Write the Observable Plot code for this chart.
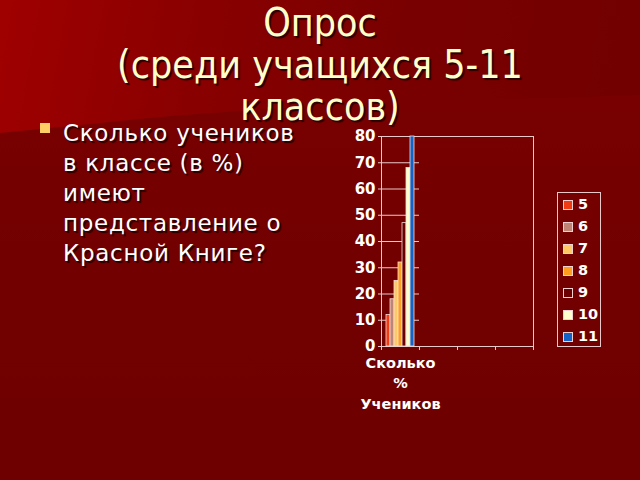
<!DOCTYPE html>
<html>
<head>
<meta charset="utf-8">
<script src="https://cdn.jsdelivr.net/npm/d3@7"></script>
<script src="https://cdn.jsdelivr.net/npm/@observablehq/plot@0.6"></script>
<style>
  html, body { margin: 0; padding: 0; }
  body { width: 640px; height: 480px; position: relative; overflow: hidden;
         background: linear-gradient(180deg, #7c0000 0%, #740000 45%, #6e0000 100%); }
  #header { position: absolute; left: 0; top: 0; width: 640px; height: 140px;
            background: linear-gradient(100deg, #a00000 0%, #8a0000 30%, #7a0000 60%, #720000 100%);
            clip-path: polygon(0 0, 100% 0, 100% 95px, 480px 100px, 340px 104px, 170px 116px, 0 133px); }
  #title { position: absolute; left: 0; top: 2px; width: 640px; text-align: center;
           font-family: "DejaVu Sans Condensed", "Liberation Sans Narrow", "DejaVu Sans", sans-serif;
           font-stretch: condensed; font-size: 39px; line-height: 42px; color: #ffffcc;
           text-shadow: 2px 2px 1px #2a0000; }
  #bullet { position: absolute; left: 40px; top: 123px; width: 10px; height: 10px; background: #ffcc66; }
  #text { position: absolute; left: 63px; top: 118px; width: 280px; white-space: nowrap;
          font-family: "DejaVu Sans", sans-serif; font-size: 23px; letter-spacing: 0.7px; line-height: 30px; color: #ffffff;
          text-shadow: 2px 2px 1px #250000; }
  #chart { position: absolute; left: 330px; top: 120px; }
  #legend { position: absolute; left: 557px; top: 192px; width: 44px; height: 155px;
            border: 1px solid #e8c8c8; box-sizing: border-box; }
  .item { position: absolute; left: 5px; height: 16px;
          font-family: "DejaVu Sans", sans-serif; font-weight: bold; font-size: 14.5px; color: #fff; }
  .sw { position: absolute; left: 0; top: 3px; width: 8px; height: 8px; border: 1px solid #f0d0d0; }
  .lb { position: absolute; left: 15px; top: -1px; line-height: 16px; }
</style>
</head>
<body>
<div id="header"></div>
<div id="title">Опрос<br>(среди учащихся 5-11<br>классов)</div>
<div id="bullet"></div>
<div id="text">Сколько учеников<br>в классе (в %)<br>имеют<br>представление о<br>Красной Книге?</div>
<div id="chart"></div>
<div id="legend"></div>
<script>
const categories = ["Сколько\n%\nУчеников", " ", "  ", "   "];
const grades = ["5", "6", "7", "8", "9", "10", "11"];
const percents = [12, 18, 25, 32, 47, 68, 80];
const colors = ["#f03c14", "#c08474", "#ffc866", "#ff9e1e", "#6c0000", "#ffffcc", "#1464c8"];
const yTicks = [0, 10, 20, 30, 40, 50, 60, 70, 80];

const data = grades.map((g, i) => ({category: categories[0], grade: g, value: percents[i]}));

const W = 220, H = 300, ML = 51, MR = 17;
const halfBand = (W - ML - MR) / categories.length / 2;

const chart = Plot.plot({
  width: W, height: H,
  marginLeft: ML, marginTop: 16, marginRight: MR, marginBottom: 74,
  style: {background: "transparent", color: "#ffffff", fontFamily: "DejaVu Sans, sans-serif", fontWeight: "bold", overflow: "visible"},
  fx: {domain: categories, padding: 0, label: null},
  x: {domain: grades, paddingInner: 0, paddingOuter: 0.5, axis: null},
  y: {domain: [0, 80], label: null},
  color: {domain: grades, range: colors},
  marks: [
    Plot.ruleY(yTicks, {stroke: "#e8c8c8", strokeWidth: 1}),
    Plot.frame({facet: "super", stroke: "#e8c8c8"}),
    Plot.barY(data, {fx: "category", x: "grade", y: "value", fill: "grade", stroke: "#f4dcdc", strokeWidth: 0.8}),
    Plot.axisY({ticks: yTicks, tickSize: 3, tickPadding: 3, fontSize: 15, stroke: "#e8c8c8", fill: "#ffffff", label: null}),
    Plot.axisFx({anchor: "bottom", tickSize: 4, tickFormat: () => "", dx: -halfBand, stroke: "#e8c8c8", label: null}),
    Plot.axisFx({anchor: "bottom", ticks: [categories[categories.length - 1]], tickSize: 4, tickFormat: () => "", dx: halfBand, stroke: "#e8c8c8", label: null}),
    Plot.axisFx({anchor: "bottom", tickSize: 0, tickPadding: 7, fontSize: 14.5, lineHeight: 1.4, fill: "#ffffff", label: null})
  ]
});
document.getElementById("chart").appendChild(chart);

const legend = document.getElementById("legend");
grades.forEach((g, i) => {
  const item = document.createElement("div");
  item.className = "item";
  item.style.top = (4 + 22 * i) + "px";
  const sw = document.createElement("div");
  sw.className = "sw";
  sw.style.background = colors[i];
  const lb = document.createElement("div");
  lb.className = "lb";
  lb.textContent = g;
  item.appendChild(sw);
  item.appendChild(lb);
  legend.appendChild(item);
});
</script>
</body>
</html>
